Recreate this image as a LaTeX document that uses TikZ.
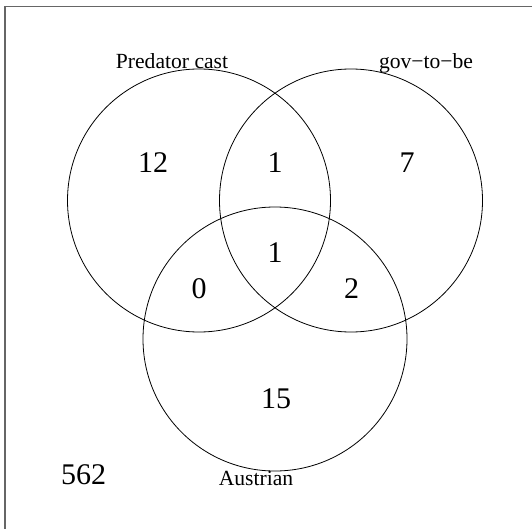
\documentclass[tikz,border=0pt]{standalone}
\usepackage{fontspec}
\setmainfont{Liberation Serif}
\tikzset{
  setcircle/.style={draw=black, line width=0.8pt},
  setlabel/.style={inner sep=0pt, anchor=base, font=\fontsize{21.6}{24}\selectfont},
  count/.style={inner sep=0pt, anchor=center, font=\fontsize{30}{34}\selectfont},
  frameline/.style={draw=black!60, line width=1.2pt}
}
\begin{document}
\begin{tikzpicture}[x=1pt,y=-1pt]
\useasboundingbox (0,0) rectangle (532,529);
\draw[frameline] (5,560) -- (5,6.5) -- (560,6.5);
\node[setcircle, circle, minimum size=263pt, inner sep=0pt] (A) at (199,200.5) {};
\node[setcircle, circle, minimum size=263pt, inner sep=0pt] (B) at (351,200.5) {};
\node[setcircle, circle, minimum size=264pt, inner sep=0pt] (C) at (275,339) {};
\node[setlabel] (la) at (172,69) {Predator cast};
\node[setlabel] (lb) at (426,69) {gov−to−be};
\node[setlabel] (lc) at (256,485) {Austrian};
\node[count] (n12) at (153,163) {12};
\node[count] (n1a) at (275,163) {1};
\node[count] (n7) at (407,162.5) {7};
\node[count] (n1b) at (275,253) {1};
\node[count] (n0) at (199,289) {0};
\node[count] (n2) at (351.5,289) {2};
\node[count] (n15) at (276,399) {15};
\node[count] (n562) at (83.5,474.5) {562};
\end{tikzpicture}
\end{document}
